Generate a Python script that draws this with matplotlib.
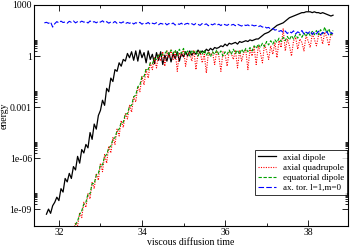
import numpy as np
import matplotlib
matplotlib.use("Agg")
import matplotlib.pyplot as plt
from matplotlib.ticker import FixedLocator, NullFormatter

plt.rcParams['font.family'] = ['Liberation Serif', 'DejaVu Serif']

dt = 0.05
t0_black = 31.70
black_log = [
    -9.3, -9.0, -9.25, -8.8, -8.6, -8.3, -8.5, -7.8, -8.0, -7.2,
    -7.4, -6.9, -7.2, -6.5, -6.7, -5.9, -6.3, -5.5, -5.7, -5.2,
    -5.4, -4.5, -4.9, -4.0, -4.3, -3.5, -3.2, -2.6, -2.9, -1.9,
    -2.1, -1.3, -1.5, -0.8, -0.9, -0.4, -0.6, -0.2, -0.3, 0.15,
    -0.1, 0.25, -0.25, 0.3, -0.3, 0.35, -0.1, 0.2, -0.4, 0.3,
    -0.2, 0.1, -0.45, 0.2, -0.25, 0.25, -0.5, 0.05, -0.3, 0.2,
    -0.35, 0.15, -0.15, 0.25, -0.3, 0.15, -0.05, 0.25, 0.0, 0.3,
    0.05, 0.25, 0.1, 0.35, 0.15, 0.3, 0.2, 0.4, 0.3, 0.45,
    0.35, 0.5, 0.45, 0.5, 0.6, 0.55, 0.7, 0.6, 0.75, 0.7,
    0.75, 0.8, 0.7, 0.85, 0.8, 0.85, 0.9, 0.85, 0.95, 0.9,
    0.95, 1.0, 1.0, 1.1, 1.2, 1.3, 1.35, 1.4, 1.5, 1.6,
    1.7, 1.8, 1.85, 1.9, 1.95, 2.05, 2.15, 2.25, 2.3, 2.35,
    2.4, 2.45, 2.5, 2.55, 2.55, 2.6, 2.6, 2.6, 2.55, 2.6,
    2.55, 2.55, 2.5, 2.55, 2.5, 2.45, 2.4, 2.35, 2.4,
]

t0_quad = 32.35
quad_log = [
    -10.3, -9.8, -10.0, -9.2, -9.5, -8.6, -8.9, -8.1, -8.4, -7.4,
    -7.8, -6.9, -7.3, -6.3, -6.8, -5.8, -6.3, -5.3, -5.7, -4.8,
    -5.2, -4.3, -4.7, -3.8, -4.2, -3.4, -3.7, -2.9, -3.3, -2.4,
    -2.7, -1.8, -2.1, -1.2, -1.7, -0.8, -1.3, -0.4, -0.8, -0.1,
    -0.7, 0.1, -0.3, 0.25, -0.6, 0.3, -0.1, 0.35,
    -0.2, 0.3, -0.9, 0.2, 0.0, 0.4, -0.6, 0.1, 0.2, -0.3,
    0.35, -0.8, 0.2, 0.3, -0.4, 0.1, -1.0, 0.25, 0.1, 0.2,
    -0.5, 0.3, 0.0, -0.9, 0.25, 0.1, -0.6, 0.3, 0.15, -0.2,
    0.35, -0.7, 0.3, -0.3, 0.2, 0.35, -0.8, 0.4, 0.0, 0.5,
    -0.5, 0.6, 0.2, -0.4, 0.7, 0.3, -0.2, 0.6, 0.1, 0.8,
    -0.1, 0.9, 0.5, 1.6, 0.3, 1.0, 0.6, 0.0, 0.9, 1.1,
    0.4, 1.0, 0.8, 0.3, 1.2, 0.9, 0.5, 1.3, 1.0, 0.6,
    1.2, 1.3, 0.7, 1.4, 1.1, 0.6, 1.3, 1.2,
]

t0_eq = 32.35
eq_log = [
    -10.2, -9.9, -9.7, -9.3, -9.1, -8.7, -8.6, -8.1, -8.1, -7.5,
    -7.5, -7.0, -6.9, -6.4, -6.4, -5.9, -5.8, -5.4, -5.3, -4.9,
    -4.8, -4.4, -4.3, -3.9, -3.9, -3.4, -3.4, -2.95, -2.9, -2.4,
    -2.3, -1.8, -1.7, -1.2, -1.2, -0.75, -0.8, -0.4, -0.45, -0.15,
    -0.2, 0.05, 0.0, 0.1, 0.15, 0.3, 0.1, 0.35,
    0.15, 0.35, 0.05, 0.4, 0.15, 0.45, 0.1, 0.3, 0.0, 0.35,
    0.2, 0.3, 0.0, 0.3, 0.1, 0.35, 0.05, 0.25, -0.05, 0.25,
    0.1, 0.35, 0.1, 0.3, 0.0, 0.25, 0.1, 0.35, 0.1, 0.4,
    0.15, 0.35, 0.1, 0.4, 0.2, 0.45, 0.25, 0.5, 0.3, 0.6,
    0.45, 0.7, 0.5, 0.75, 0.55, 0.85, 0.65, 0.9, 0.7, 0.95,
    0.8, 1.05, 0.85, 1.1, 0.9, 1.15, 0.95, 1.2, 1.0, 1.25,
    1.05, 1.3, 1.1, 1.35, 1.15, 1.4, 1.2, 1.45, 1.25, 1.5,
    1.25, 1.55, 1.3, 1.7, 1.35, 1.6, 1.25, 1.5,
]

t0_tor = 31.65
tor_log = [
    1.95, 1.98, 1.92, 2.0, 1.7, 1.9, 2.02, 1.95, 2.05, 1.97,
    2.0, 1.93, 2.04, 1.98, 2.06, 1.95, 2.02, 1.97, 2.05, 1.99,
    2.03, 1.94, 2.06, 1.98, 2.02, 1.95, 2.04, 1.99, 2.07, 1.96,
    2.02, 1.93, 2.0, 1.95, 2.03, 1.92, 1.99, 1.94, 2.01, 1.9,
    1.97, 1.92, 1.99, 1.88, 1.96, 1.91, 1.98, 1.87, 1.95, 1.9,
    1.97, 1.86, 1.93, 1.89, 1.96, 1.84, 1.92, 1.88, 1.95, 1.83,
    1.91, 1.87, 1.94, 1.82, 1.9, 1.86, 1.93, 1.81, 1.89, 1.92,
    1.85, 1.9, 1.83, 1.92, 1.86, 1.8, 1.91, 1.84, 1.89, 1.78,
    1.88, 1.83, 1.9, 1.81, 1.87, 1.79, 1.89, 1.84, 1.8, 1.88,
    1.82, 1.86, 1.78, 1.87, 1.81, 1.76, 1.85, 1.79, 1.83, 1.75,
    1.82, 1.77, 1.8, 1.72, 1.78, 1.7, 1.74, 1.65, 1.68, 1.58,
    1.62, 1.52, 1.56, 1.45, 1.5, 1.38, 1.47, 1.32, 1.44, 1.36,
    1.48, 1.3, 1.42, 1.35, 1.5, 1.28, 1.4, 1.33, 1.47, 1.27,
    1.42, 1.3, 1.46, 1.25, 1.39, 1.32, 1.44, 1.22, 1.38, 1.3,
]

labels = ["axial dipole", "axial quadrupole", "equatorial dipole", "ax. tor. l=1,m=0"]
ytick_vals = [1e-9, 1e-6, 1e-3, 1, 1000]
ytick_labels = ["1e-09", "1e-06", "0.001", "1", "1000"]
xtick_vals = [32, 34, 36, 38]


def series(t0, vals):
    t = t0 + dt * np.arange(len(vals))
    return t, 10.0 ** np.array(vals)


fig = plt.figure(figsize=(3.54, 2.49), dpi=100)
ax = fig.add_axes([0.096, 0.092, 0.887, 0.888])

t, e = series(t0_black, black_log)
ax.plot(t, e, color='black', lw=0.9, label=labels[0])
t, e = series(t0_quad, quad_log)
ax.plot(t, e, color='red', lw=0.8, ls=(0, (1, 1.2)), label=labels[1])
t, e = series(t0_eq, eq_log)
ax.plot(t, e, color='#00a000', lw=0.8, ls=(0, (3, 1.5)), label=labels[2])
t, e = series(t0_tor, tor_log)
ax.plot(t, e, color='blue', lw=0.8, ls=(0, (5, 2)), label=labels[3])

ax.set_yscale('log')
ax.set_xlim(31.4, 38.96)
ax.set_ylim(1e-10, 1000)

ax.xaxis.set_major_locator(FixedLocator(xtick_vals))
ax.xaxis.set_minor_locator(FixedLocator([33, 35, 37]))
ax.yaxis.set_major_locator(FixedLocator(ytick_vals))
ax.set_yticklabels(ytick_labels)
minor_y = [m * 10.0 ** k for k in (-9, -6, -3, 0) for m in range(2, 10)]
ax.yaxis.set_minor_locator(FixedLocator(minor_y))
ax.yaxis.set_minor_formatter(NullFormatter())

ax.tick_params(which='both', direction='in', top=True, right=True,
               labelsize=7, width=0.6, pad=1.5)
ax.tick_params(which='major', length=4.5)
ax.tick_params(which='minor', length=2.5)
for s in ax.spines.values():
    s.set_linewidth(0.8)

ax.set_xlabel("viscous diffusion time", fontsize=7, labelpad=0.5)
ax.set_ylabel("energy", fontsize=7, labelpad=1)

leg = ax.legend(loc='lower right', bbox_to_anchor=(0.998, 0.14), fontsize=6.5,
                frameon=True, fancybox=False, handlelength=2.0,
                borderpad=0.35, labelspacing=0.2, handletextpad=0.8,
                borderaxespad=0)
leg.get_frame().set_edgecolor('black')
leg.get_frame().set_linewidth(0.7)

fig.savefig("out.png", dpi=100)
